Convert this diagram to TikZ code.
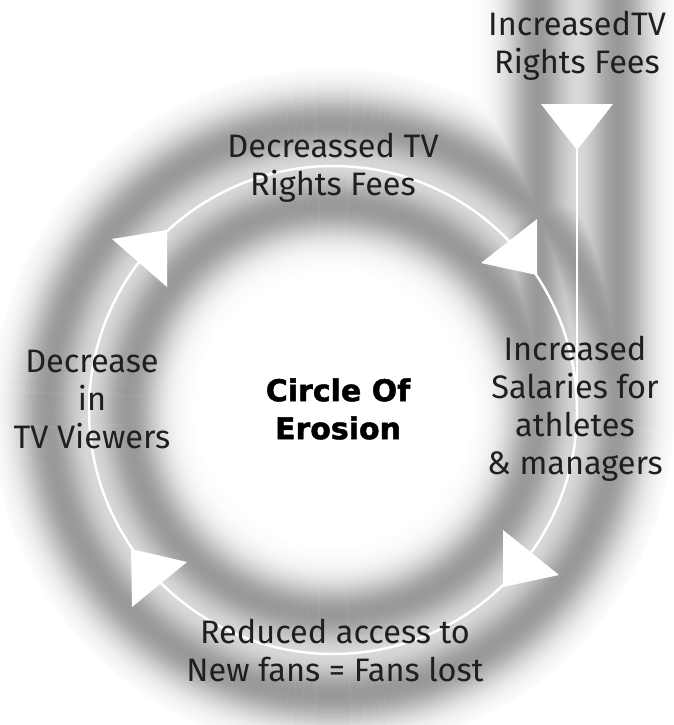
\documentclass[tikz,border=0pt]{standalone}
\usepackage{fontspec}
\setmainfont{Fira Sans}
\newfontfamily\heavyfont{DejaVu Sans}[UprightFont=*-Bold,FakeBold=1.5]
\begin{document}
\begin{tikzpicture}[x=1pt,y=-1pt,
  lbl/.style={align=center,text=black!88,font=\fontsize{32.5}{38}\selectfont,inner sep=0pt},
  ttl/.style={align=center,text=black,font=\heavyfont\fontsize{30}{38}\selectfont,inner sep=0pt},
  whiteline/.style={draw=white,line width=2.5pt},
  tri/.style={fill=white,draw=none}]
\useasboundingbox (0,0) rectangle (673,725);
\fill[white] (0,0) rectangle (673,725);
\coordinate (C) at (333,410);
\begin{scope}[blend mode=darken]
  \foreach \r in {140,142,...,340}{
    \pgfmathsetmacro\d{40*(exp(-0.5*((\r-205)/22)^2)+exp(-0.5*((\r-285)/22)^2))}
    \draw[line width=2.4pt,draw=black!\d] (C) circle (\r);
  }
  \foreach \o in {-104,-102,...,96}{
    \pgfmathsetmacro\d{40*(exp(-0.5*((\o+39)/22)^2)+exp(-0.5*((\o-41)/22)^2))}
    \draw[line width=2.4pt,draw=black!\d] (577+\o,-5) -- (577+\o,410);
  }
\end{scope}
% white path
\draw[whiteline] (C) circle (244);
\coordinate (vtop) at (577,148);
\coordinate (vbot) at (577,410);
\draw[whiteline] (vtop) -- (vbot);
% triangles
\fill[tri] (541,104) -- (613,104) -- (577,150) -- cycle;
\fill[tri] (537,219) -- (481,263) -- (537,275) -- cycle;
\fill[tri] (112,239) -- (167,230) -- (167,287) -- cycle;
\fill[tri] (131,549) -- (187,562) -- (132,607) -- cycle;
\fill[tri] (503,530) -- (559,575) -- (503,587) -- cycle;
% texts
\node[lbl] (inc) at (577,46) {IncreasedTV\\Rights Fees};
\node[lbl] (dec) at (333,168) {Decreassed TV\\Rights Fees};
\node[lbl] (view) at (92,399) {Decrease\\in\\TV Viewers};
\node[ttl] (core) at (338,409) {Circle Of\\Erosion};
\node[lbl] (sal) at (575,409) {Increased\\Salaries for\\athletes\\\& managers};
\node[lbl] (fans) at (335,650) {Reduced access to\\New fans = Fans lost};
\end{tikzpicture}
\end{document}
